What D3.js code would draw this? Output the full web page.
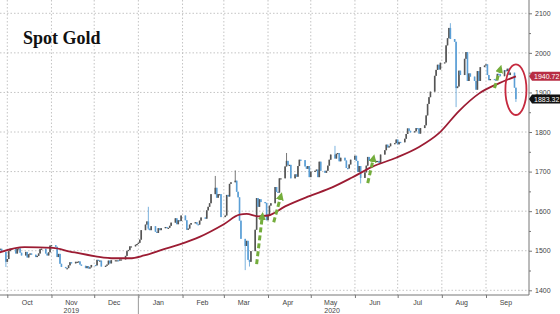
<!DOCTYPE html>
<html>
<head>
<meta charset="utf-8">
<script src="https://cdn.jsdelivr.net/npm/d3@7"></script>
<style>
  body { margin: 0; background: #fff; }
  svg { display: block; font-family: "Liberation Sans", Arial, sans-serif; }
  .title { font-family: "Liberation Serif", "Times New Roman", serif; font-weight: bold; font-size: 18px; fill: #111; }
  .tick-label { font-size: 7px; fill: #444; }
  .grid { stroke: #b5b5b5; stroke-width: 0.8; stroke-dasharray: 1.5,2; }
  .axis-line { stroke: #777; stroke-width: 1; }
</style>
</head>
<body>
<svg id="chart"></svg>
<script>
// daily closes (weekdays), one array per month
const closesSep2019 = [1532, 1504, 1505, 1497, 1472]; // starts Sep 24
const closesOct2019 = [1479, 1499, 1505, 1505, 1493, 1505, 1506, 1495, 1488, 1497, 1483, 1491, 1493, 1490, 1484, 1487, 1493, 1504, 1505, 1493, 1488, 1496, 1513];
const closesNov2019 = [1514, 1510, 1484, 1492, 1467, 1459, 1456, 1456, 1463, 1471, 1468, 1472, 1472, 1473, 1465, 1462, 1456, 1461, 1455, 1458, 1464];
const closesDec2019 = [1463, 1477, 1474, 1475, 1460, 1462, 1465, 1475, 1468, 1476, 1476, 1476, 1475, 1478, 1478, 1487, 1499, 1502, 1511, 1511, 1515, 1517];
const closesJan2020 = [1520, 1528, 1552, 1566, 1574, 1556, 1552, 1562, 1548, 1545, 1557, 1552, 1557, 1560, 1558, 1558, 1563, 1571, 1582, 1567, 1577, 1575, 1589];
const closesFeb2020 = [1577, 1553, 1556, 1566, 1570, 1572, 1567, 1566, 1576, 1584, 1581, 1602, 1611, 1620, 1643, 1659, 1634, 1643, 1643, 1585];
const closesMar2020 = [1589, 1641, 1637, 1669, 1673, 1677, 1649, 1635, 1576, 1530, 1512, 1525, 1477, 1472, 1499, 1553, 1633, 1611, 1630, 1623, 1621, 1577];
const closesApr2020 = [1591, 1614, 1620, 1661, 1649, 1647, 1683, 1683, 1713, 1727, 1716, 1717, 1683, 1693, 1687, 1714, 1730, 1729, 1713, 1707, 1714, 1686];
const closesMay2020 = [1700, 1702, 1705, 1686, 1725, 1702, 1697, 1702, 1715, 1730, 1743, 1733, 1745, 1747, 1726, 1735, 1728, 1709, 1708, 1718, 1730];
const closesJun2020 = [1740, 1727, 1699, 1714, 1684, 1698, 1715, 1737, 1727, 1730, 1726, 1727, 1727, 1722, 1743, 1754, 1768, 1761, 1764, 1771, 1772, 1781];
const closesJul2020 = [1769, 1775, 1774, 1783, 1795, 1809, 1803, 1799, 1802, 1810, 1809, 1796, 1810, 1817, 1842, 1871, 1888, 1902, 1942, 1957, 1970, 1958, 1975];
const closesAug2020 = [1976, 2019, 2037, 2063, 2035, 2028, 1911, 1915, 1955, 1944, 1985, 2002, 1929, 1948, 1940, 1929, 1907, 1954, 1929, 1964, 1968];
const closesSep2020 = [1971, 1944, 1931, 1934, 1932, 1931, 1947, 1946, 1941, 1956, 1954, 1960, 1944, 1950, 1912, 1883.32];

// intraday extremes that stick out of the bodies: [date, high, low]
const wicks = [
  ['2019-09-30', null, 1459],
  ['2020-01-08', 1611, 1553],
  ['2020-02-24', 1689, null],
  ['2020-03-09', 1703, null],
  ['2020-03-16', null, 1451],
  ['2020-03-19', null, 1460],
  ['2020-04-14', 1747, null],
  ['2020-05-18', 1765, null],
  ['2020-06-05', null, 1670],
  ['2020-08-07', 2075, null],
  ['2020-08-11', null, 1863],
  ['2020-09-22', null, 1876]
];

// moving average
const maDates = ['2019-09-24', '2019-10-13', '2019-11-02', '2019-11-14', '2019-12-02', '2019-12-15', '2019-12-26',
  '2020-01-05', '2020-01-19', '2020-01-30', '2020-02-13', '2020-03-01', '2020-03-12', '2020-03-17', '2020-03-25',
  '2020-04-01', '2020-04-13', '2020-04-30', '2020-05-16', '2020-05-30', '2020-06-13', '2020-06-30', '2020-07-16',
  '2020-07-30', '2020-08-13', '2020-08-27', '2020-09-10', '2020-09-22'];
const maValues = [1494, 1509, 1507, 1498, 1486, 1481, 1481, 1488, 1504, 1516, 1535, 1567, 1591, 1593, 1587,
  1589, 1612, 1638, 1660, 1685, 1712, 1735, 1762, 1797, 1853, 1897, 1923, 1940.72];

const yTicks = [1400, 1500, 1600, 1700, 1800, 1900, 2000, 2100];
const yMinorTicks = [1450, 1550, 1650, 1750, 1850, 1950, 2050];
const monthStarts = ['2019-10-01', '2019-11-01', '2019-12-01', '2020-01-01', '2020-02-01', '2020-03-01',
  '2020-04-01', '2020-05-01', '2020-06-01', '2020-07-01', '2020-08-01', '2020-09-01'];
const yearLabels = [['2019-11-15', '2019'], ['2020-05-16', '2020']];

// annotations: green arrows [fromDate, fromPrice, toDate, toPrice], red ring [date, price, halfDays, halfPrice]
const arrows = [
  ['2020-03-24', 1466, '2020-03-28', 1588],
  ['2020-04-05', 1572, '2020-04-10', 1638],
  ['2020-06-10', 1671, '2020-06-14', 1734],
  ['2020-09-07', 1911, '2020-09-11', 1960]
];
const ring = ['2020-09-22', 1907, 7.4, 64];

const parseDate = d3.utcParse('%Y-%m-%d');
const fmtDate = d3.utcFormat('%Y-%m-%d');

function weekdaysFrom(start, n) {
  const out = [];
  let d = parseDate(start);
  while (out.length < n) {
    const wd = d.getUTCDay();
    if (wd !== 0 && wd !== 6) out.push(d);
    d = d3.utcDay.offset(d, 1);
  }
  return out;
}

class CandleChart {
  constructor(_config) {
    this.config = {
      parentElement: _config.parentElement,
      containerWidth: 560,
      containerHeight: 314,
      plotRight: 529,
      plotBottom: 295
    };
    this.initVis();
  }

  initVis() {
    const vis = this;
    const cfg = vis.config;

    vis.svg = d3.select(cfg.parentElement)
      .attr('width', cfg.containerWidth)
      .attr('height', cfg.containerHeight);

    vis.xScale = d3.scaleUtc()
      .domain([parseDate('2019-10-01'), parseDate('2020-09-01')])
      .range([7.3, 486]);
    vis.yScale = d3.scaleLinear()
      .domain([1400, 2100])
      .range([290.3, 13.3]);

    vis.svg.append('clipPath').attr('id', 'plot-clip')
      .append('rect')
      .attr('width', cfg.plotRight)
      .attr('height', cfg.plotBottom);

    vis.gridG = vis.svg.append('g');
    vis.chart = vis.svg.append('g').attr('clip-path', 'url(#plot-clip)');
    vis.annoG = vis.svg.append('g');
    vis.axisG = vis.svg.append('g');

    vis.svg.append('text')
      .attr('class', 'title')
      .attr('x', 23)
      .attr('y', 44)
      .text('Spot Gold');
  }

  updateVis() {
    const vis = this;
    const wickMap = new Map(wicks.map(w => [w[0], w]));

    vis.candles = [];
    [
      ['2019-09-24', closesSep2019], ['2019-10-01', closesOct2019], ['2019-11-01', closesNov2019],
      ['2019-12-01', closesDec2019], ['2020-01-01', closesJan2020], ['2020-02-01', closesFeb2020],
      ['2020-03-01', closesMar2020], ['2020-04-01', closesApr2020], ['2020-05-01', closesMay2020],
      ['2020-06-01', closesJun2020], ['2020-07-01', closesJul2020], ['2020-08-01', closesAug2020],
      ['2020-09-01', closesSep2020]
    ].forEach(([start, closes]) => {
      weekdaysFrom(start, closes.length).forEach((date, i) => vis.candles.push({ date, close: closes[i] }));
    });

    vis.candles.forEach((c, i) => {
      c.open = i ? vis.candles[i - 1].close : c.close;
      const w = wickMap.get(fmtDate(c.date));
      c.high = Math.max(c.open, c.close, w && w[1] != null ? w[1] : -Infinity);
      c.low = Math.min(c.open, c.close, w && w[2] != null ? w[2] : Infinity);
    });

    vis.ma = maDates.map((d, i) => ({ date: parseDate(d), value: maValues[i] }));
    vis.renderVis();
  }

  renderVis() {
    const vis = this;
    const cfg = vis.config;
    const x = vis.xScale, y = vis.yScale;

    // grid
    vis.gridG.selectAll('.hgrid')
      .data(yTicks)
      .join('line')
      .attr('class', 'grid hgrid')
      .attr('x1', 0).attr('x2', cfg.plotRight)
      .attr('y1', d => y(d)).attr('y2', d => y(d));

    vis.gridG.selectAll('.vgrid')
      .data(monthStarts.map(parseDate))
      .join('line')
      .attr('class', 'grid vgrid')
      .attr('x1', d => x(d)).attr('x2', d => x(d))
      .attr('y1', 0).attr('y2', cfg.plotBottom);

    // candles
    const candle = vis.chart.selectAll('.candle')
      .data(vis.candles)
      .join('g')
      .attr('class', 'candle')
      .attr('fill', d => d.close >= d.open ? '#555' : '#5b9fd6')
      .attr('stroke', d => d.close >= d.open ? '#555' : '#5b9fd6');

    candle.append('line')
      .attr('x1', d => x(d.date)).attr('x2', d => x(d.date))
      .attr('y1', d => y(d.high)).attr('y2', d => y(d.low))
      .attr('stroke-width', 0.8);

    candle.append('rect')
      .attr('stroke', 'none')
      .attr('x', d => x(d.date) - 0.8)
      .attr('width', 1.6)
      .attr('y', d => y(Math.max(d.open, d.close)))
      .attr('height', d => Math.max(1.2, Math.abs(y(d.open) - y(d.close))));

    // moving average
    vis.chart.append('path')
      .datum(vis.ma)
      .attr('fill', 'none')
      .attr('stroke', '#9c1c33')
      .attr('stroke-width', 1.8)
      .attr('d', d3.line().x(d => x(d.date)).y(d => y(d.value)).curve(d3.curveMonotoneX));

    // right axis
    vis.axisG.append('line')
      .attr('class', 'axis-line')
      .attr('x1', cfg.plotRight).attr('x2', cfg.plotRight)
      .attr('y1', 0).attr('y2', cfg.plotBottom);

    const yAxis = vis.axisG.append('g')
      .attr('transform', `translate(${cfg.plotRight},0)`)
      .call(d3.axisRight(y).tickValues(yTicks).tickSize(3).tickPadding(3).tickFormat(d3.format('d')));
    const yMinor = vis.axisG.append('g')
      .attr('transform', `translate(${cfg.plotRight},0)`)
      .call(d3.axisRight(y).tickValues(yMinorTicks).tickSize(2).tickFormat(''));
    [yAxis, yMinor].forEach(g => {
      g.select('.domain').remove();
      g.selectAll('line').attr('stroke', '#777');
    });
    yAxis.selectAll('text').attr('class', 'tick-label').attr('font-size', null).attr('font-family', null).attr('fill', null);

    // bottom axis
    vis.axisG.append('line')
      .attr('class', 'axis-line')
      .attr('x1', 0).attr('x2', cfg.plotRight)
      .attr('y1', cfg.plotBottom).attr('y2', cfg.plotBottom);

    const xAxis = vis.axisG.append('g')
      .attr('transform', `translate(0,${cfg.plotBottom})`)
      .call(d3.axisBottom(x).tickValues(monthStarts.map(parseDate)).tickSize(3).tickFormat(''));
    xAxis.select('.domain').remove();
    xAxis.selectAll('line').attr('stroke', '#777');

    vis.axisG.selectAll('.month-label')
      .data(monthStarts.map(parseDate))
      .join('text')
      .attr('class', 'tick-label month-label')
      .attr('x', d => x(d3.utcDay.offset(d, 14)))
      .attr('y', 304.5)
      .attr('text-anchor', 'middle')
      .text(d => d3.utcFormat('%b')(d));

    vis.axisG.selectAll('.year-label')
      .data(yearLabels)
      .join('text')
      .attr('class', 'tick-label year-label')
      .attr('x', d => x(parseDate(d[0])))
      .attr('y', 312.5)
      .attr('text-anchor', 'middle')
      .text(d => d[1]);

    // year separator
    const jan = x(parseDate('2020-01-01'));
    vis.axisG.append('line')
      .attr('x1', jan).attr('x2', jan)
      .attr('y1', cfg.plotBottom).attr('y2', cfg.containerHeight)
      .attr('stroke', '#999');

    // annotations
    const defs = vis.svg.append('defs');
    defs.append('marker')
      .attr('id', 'green-head')
      .attr('viewBox', '0 0 10 10')
      .attr('refX', 5).attr('refY', 5)
      .attr('markerWidth', 8).attr('markerHeight', 8)
      .attr('markerUnits', 'userSpaceOnUse')
      .attr('orient', 'auto')
      .append('path')
      .attr('d', 'M0,0 L10,5 L0,10 Z')
      .attr('fill', '#74ad3c');

    vis.annoG.selectAll('.arrow')
      .data(arrows)
      .join('line')
      .attr('class', 'arrow')
      .attr('x1', d => x(parseDate(d[0]))).attr('y1', d => y(d[1]))
      .attr('x2', d => x(parseDate(d[2]))).attr('y2', d => y(d[3]))
      .attr('stroke', '#74ad3c')
      .attr('stroke-width', 3)
      .attr('stroke-dasharray', '5,3')
      .attr('marker-end', 'url(#green-head)');

    const ringDate = parseDate(ring[0]);
    vis.annoG.append('ellipse')
      .attr('cx', x(ringDate))
      .attr('cy', y(ring[1]))
      .attr('rx', x(d3.utcHour.offset(ringDate, ring[2] * 24)) - x(ringDate))
      .attr('ry', y(ring[1]) - y(ring[1] + ring[3]))
      .attr('fill', 'none')
      .attr('stroke', '#c62a3f')
      .attr('stroke-width', 1.8);

    // last value tags
    const tags = [
      { value: maValues[maValues.length - 1], fill: '#b82e44' },
      { value: closesSep2020[closesSep2020.length - 1], fill: '#111' }
    ];
    const tag = vis.axisG.selectAll('.tag')
      .data(tags)
      .join('g')
      .attr('class', 'tag')
      .attr('transform', d => `translate(${cfg.plotRight},${y(d.value)})`);
    tag.append('path')
      .attr('d', 'M0,0 L3,-4.5 L31,-4.5 L31,4.5 L3,4.5 Z')
      .attr('fill', d => d.fill);
    tag.append('text')
      .attr('x', 5)
      .attr('y', 2.5)
      .attr('fill', '#fff')
      .attr('font-size', 7)
      .text(d => d3.format('.2f')(d.value));
  }
}

const chart = new CandleChart({ parentElement: '#chart' });
chart.updateVis();
</script>
</body>
</html>
